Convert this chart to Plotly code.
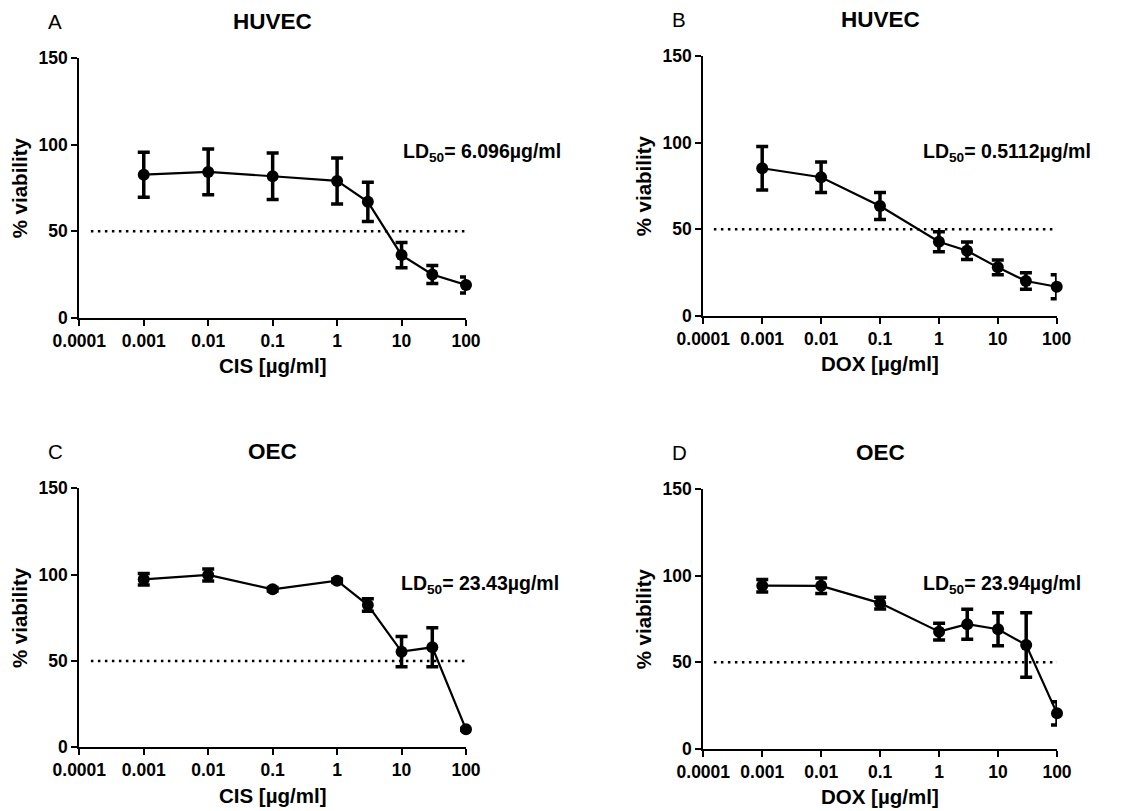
import plotly.graph_objects as go

# ---------------- data ----------------
conc = [0.001, 0.01, 0.1, 1, 3, 10, 30, 100]

huvec_cis = [82.7, 84.3, 81.8, 79.1, 67.0, 36.2, 25.0, 18.9]
huvec_cis_err = [13.0, 13.2, 13.5, 13.3, 11.3, 7.3, 5.2, 4.6]

huvec_dox = [85.3, 80.1, 63.5, 42.8, 37.6, 28.0, 20.1, 16.8]
huvec_dox_err = [12.6, 8.8, 7.8, 5.8, 5.1, 4.3, 4.8, 6.9]

oec_cis = [97.3, 99.8, 91.5, 96.5, 82.4, 55.4, 57.9, 10.4]
oec_cis_err = [3.3, 3.5, 1.0, 1.0, 3.6, 8.7, 11.3, 0.5]

oec_dox = [94.3, 94.2, 84.2, 67.7, 72.0, 69.1, 60.0, 20.5]
oec_dox_err = [3.6, 4.5, 3.4, 4.8, 8.7, 9.6, 18.7, 6.7]

x_tickvals = [0.0001, 0.001, 0.01, 0.1, 1, 10, 100]
x_ticktext = ["0.0001", "0.001", "0.01", "0.1", "1", "10", "100"]
y_tickvals = [0, 50, 100, 150]

panels = [
    dict(letter="A", title="HUVEC", xlabel="CIS [µg/ml]", y=huvec_cis, err=huvec_cis_err,
         ld="LD<sub>50</sub>= 6.096µg/ml", box=(79.3, 466.0, 58.3, 317.7), ld_pos=(401.0, 152)),
    dict(letter="B", title="HUVEC", xlabel="DOX [µg/ml]", y=huvec_dox, err=huvec_dox_err,
         ld="LD<sub>50</sub>= 0.5112µg/ml", box=(703.3, 1056.7, 56.3, 315.8), ld_pos=(921.0, 152)),
    dict(letter="C", title="OEC", xlabel="CIS [µg/ml]", y=oec_cis, err=oec_cis_err,
         ld="LD<sub>50</sub>= 23.43µg/ml", box=(79.3, 466.0, 488.3, 747.3), ld_pos=(399.5, 584)),
    dict(letter="D", title="OEC", xlabel="DOX [µg/ml]", y=oec_dox, err=oec_dox_err,
         ld="LD<sub>50</sub>= 23.94µg/ml", box=(703.3, 1057.0, 489.3, 748.8), ld_pos=(921.0, 584)),
]

W, H = 1133, 811
FONT = "Liberation Sans, Arial, Helvetica, sans-serif"


def px(x):
    return x / W


def py(y):
    return 1 - y / H


fig = go.Figure()
annotations = []
shapes = []

for i, p in enumerate(panels, start=1):
    xa = "x" if i == 1 else f"x{i}"
    ya = "y" if i == 1 else f"y{i}"
    x0, x1, y0, y1 = p["box"]

    fig.add_trace(go.Scatter(
        x=conc, y=p["y"], xaxis=xa, yaxis=ya, mode="lines+markers",
        line=dict(color="black", width=2.2),
        marker=dict(color="black", size=12, symbol="circle"),
        error_y=dict(type="data", array=p["err"], visible=True,
                     color="black", thickness=3.5, width=6),
        cliponaxis=False, showlegend=False, hoverinfo="skip",
    ))

    axis_common = dict(showline=True, linecolor="black", linewidth=2, mirror=False,
                       ticks="outside", ticklen=6, tickwidth=2, tickcolor="black",
                       showgrid=False, zeroline=False, automargin=False,
                       tickfont=dict(family=FONT, size=17.5, color="black", weight="bold"))
    fig.update_layout(**{
        ("xaxis" if i == 1 else f"xaxis{i}"): dict(
            type="log", range=[-4, 2], domain=[px(x0), px(x1)],
            anchor=ya, tickvals=x_tickvals, ticktext=x_ticktext, **axis_common),
        ("yaxis" if i == 1 else f"yaxis{i}"): dict(
            range=[0, 150], domain=[py(y1), py(y0)],
            anchor=xa, tickvals=y_tickvals, **axis_common),
    })

    # 50 % reference line
    shapes.append(dict(type="line", xref=f"{xa} domain", yref=ya,
                       x0=0.03, x1=1.0, y0=50, y1=50,
                       line=dict(color="black", width=2.5, dash="2.5px,4.5px")))

    cx = (x0 + x1) / 2
    top = y0 - 37
    annotations += [
        dict(text=p["title"], x=px(cx), y=py(top), xref="paper", yref="paper",
             showarrow=False, xanchor="center", yanchor="middle",
             font=dict(family=FONT, size=22.5, color="black", weight="bold")),
        dict(text=p["letter"], x=px(x0 - 33), y=py(top), xref="paper", yref="paper",
             showarrow=False, xanchor="left", yanchor="middle",
             font=dict(family=FONT, size=20.5, color="black")),
        dict(text=p["xlabel"], x=px(cx), y=py(y1 + 48), xref="paper", yref="paper",
             showarrow=False, xanchor="center", yanchor="middle",
             font=dict(family=FONT, size=20.5, color="black", weight="bold")),
        dict(text="% viability", x=px(x0 - 60), y=py((y0 + y1) / 2), xref="paper", yref="paper",
             showarrow=False, xanchor="center", yanchor="middle", textangle=-90,
             font=dict(family=FONT, size=20.5, color="black", weight="bold")),
        dict(text=p["ld"], x=px(p["ld_pos"][0]), y=py(p["ld_pos"][1]), xref="paper", yref="paper",
             showarrow=False, xanchor="left", yanchor="middle",
             font=dict(family=FONT, size=19.5, color="black", weight="bold")),
    ]

fig.update_layout(
    template="none",
    width=W, height=H, autosize=False,
    margin=dict(l=0, r=0, t=0, b=0, pad=0),
    paper_bgcolor="white", plot_bgcolor="white",
    annotations=annotations, shapes=shapes,
)

fig.write_html("out.html")
